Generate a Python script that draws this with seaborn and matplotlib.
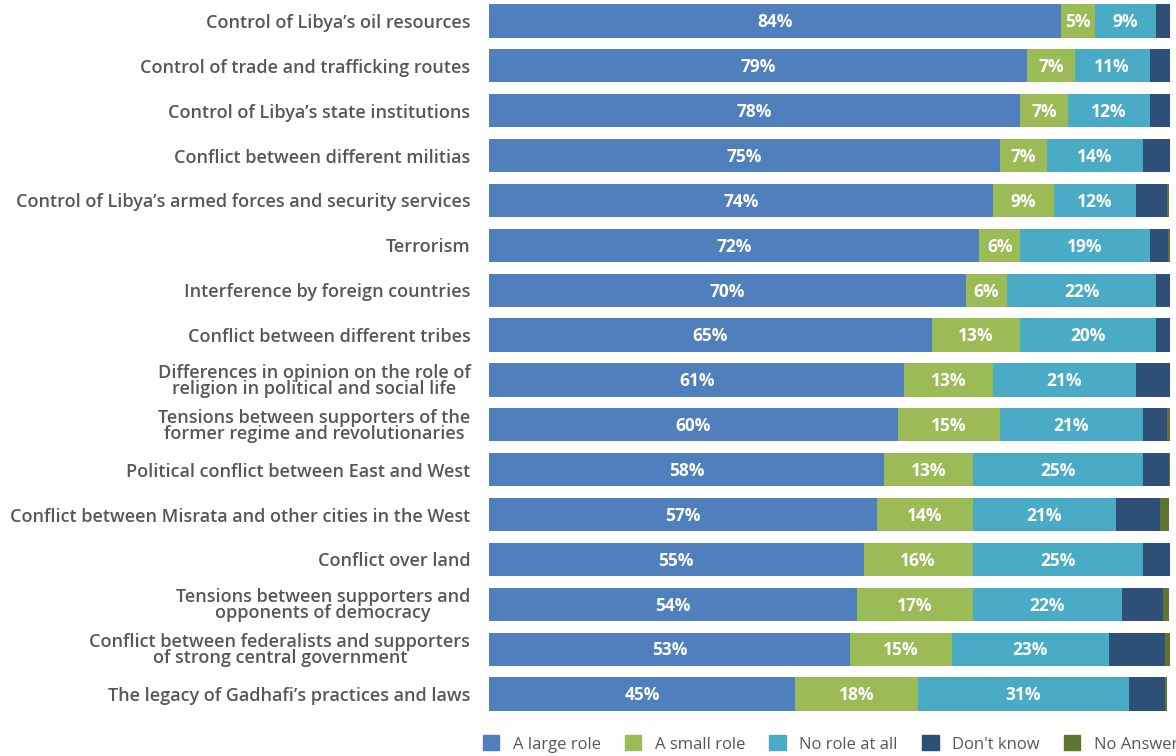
import matplotlib
matplotlib.use("Agg")
import matplotlib.pyplot as plt
import seaborn as sns
import pandas as pd
import numpy as np
from matplotlib.patches import Patch

categories = [
    "Control of Libya\u2019s oil resources",
    "Control of trade and trafficking routes",
    "Control of Libya\u2019s state institutions",
    "Conflict between different militias",
    "Control of Libya\u2019s armed forces and security services",
    "Terrorism",
    "Interference by foreign countries",
    "Conflict between different tribes",
    "Differences in opinion on the role of\nreligion in political and social life",
    "Tensions between supporters of the\nformer regime and revolutionaries",
    "Political conflict between East and West",
    "Conflict between Misrata and other cities in the West",
    "Conflict over land",
    "Tensions between supporters and\nopponents of democracy",
    "Conflict between federalists and supporters\nof strong central government",
    "The legacy of Gadhafi\u2019s practices and laws",
]

large_role = [84, 79, 78, 75, 74, 72, 70, 65, 61, 60, 58, 57, 55, 54, 53, 45]
small_role = [5, 7, 7, 7, 9, 6, 6, 13, 13, 15, 13, 14, 16, 17, 15, 18]
no_role = [9, 11, 12, 14, 12, 19, 22, 20, 21, 21, 25, 21, 25, 22, 23, 31]
dont_know = [2.2, 3, 3, 4, 4.5, 2.7, 2, 2, 5.2, 3.5, 3.8, 6.6, 4, 6, 8.2, 5.3]
no_answer = [0, 0, 0.3, 0, 0.3, 0.3, 0, 0, 0.6, 0.5, 0.5, 1.3, 0.3, 0.9, 0.9, 0.3]

series_names = ["A large role", "A small role", "No role at all", "Don't know", "No Answer"]
series_values = [large_role, small_role, no_role, dont_know, no_answer]
colors = ["#4f80bd", "#9bbb57", "#4aabc6", "#2d4f78", "#5f7530"]
labelled = [True, True, True, False, False]

df = pd.DataFrame({"category": categories})
for name, vals in zip(series_names, series_values):
    df[name] = vals
cum = df[series_names].cumsum(axis=1)

sns.set_theme(style="white")
plt.rcParams["font.family"] = ["Open Sans", "DejaVu Sans"]

fig = plt.figure(figsize=(11.76, 7.56), dpi=100)
ax = fig.add_axes([489 / 1176, 1 - 716.4 / 756, (1170 - 489) / 1176, 717.8 / 756])

# stacked bars: draw cumulative totals from the outermost segment inwards
for name, color in reversed(list(zip(series_names, colors))):
    sns.barplot(data=cum.assign(category=categories), x=name, y="category",
                color=color, width=0.74, orient="h", ax=ax,
                saturation=1, linewidth=0, edgecolor=color)

for i in range(len(categories)):
    start = 0
    for name, show in zip(series_names, labelled):
        v = df.loc[i, name]
        if show:
            ax.text(start + v / 2, i + 0.03, f"{v:g}%", ha="center", va="center",
                    color="white", fontsize=12.5, fontweight="bold")
        start += v

ax.set_xlim(0, 100)
ax.set_ylim(15.5, -0.5)
ax.set_xlabel("")
ax.set_ylabel("")
ax.set_xticks([])
for s in ax.spines.values():
    s.set_visible(False)
ax.tick_params(axis="y", length=0, pad=13.5)
ax.set_yticks(range(len(categories)))
ax.set_yticklabels(categories)
for t in ax.get_yticklabels():
    t.set_fontsize(13)
    t.set_color("#575757")
    t.set_multialignment("center")
    t.set_linespacing(0.85)
    t.set_fontweight("semibold")

handles = [Patch(facecolor=c, edgecolor=c) for c in colors]
fig.legend(handles, series_names, loc="center right", bbox_to_anchor=(1178 / 1176, 12 / 756),
           ncol=5, frameon=False, fontsize=12, handlelength=1.0, handleheight=1.0,
           columnspacing=1.45, handletextpad=0.8, labelcolor="#575757", borderaxespad=0,
           borderpad=0)

fig.savefig("out.png", dpi=100)
